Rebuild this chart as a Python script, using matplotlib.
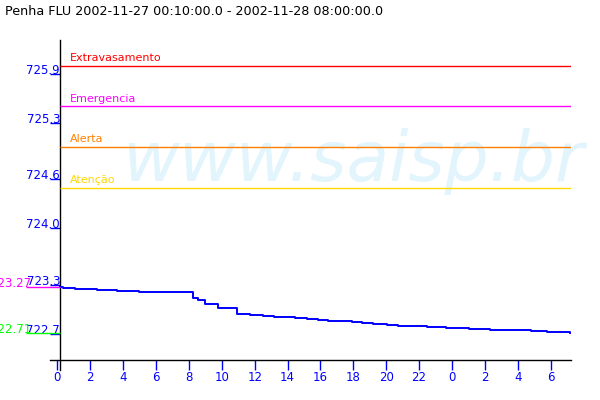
import numpy as np
import matplotlib
matplotlib.use("Agg")
import matplotlib.pyplot as plt

# level readings, hours counted from 2002-11-27 00:00
hours = [0.17, 0.35, 1.07, 2.41, 3.62, 4.96, 8.25, 8.55, 8.97, 9.76, 10.92, 11.70,
         12.50, 13.17, 14.45, 15.18, 15.85, 16.45, 17.91, 18.52, 19.19, 20.04,
         20.71, 22.47, 23.63, 25.03, 26.31, 28.80, 29.77, 31.20]
level = [723.27, 723.265, 723.255, 723.24, 723.23, 723.22, 723.14, 723.115, 723.065,
         723.02, 722.945, 722.935, 722.92, 722.91, 722.90, 722.885, 722.872, 722.86,
         722.848, 722.835, 722.823, 722.81, 722.80, 722.786, 722.774, 722.762,
         722.75, 722.737, 722.725, 722.71]

thresholds = [726.0, 725.5, 725.0, 724.5]
threshold_names = ["Extravasamento", "Emergencia", "Alerta", "Atenção"]
threshold_colors = ["#ff0000", "#ff00ff", "#ff8000", "#ffd800"]

yticks = [722.7, 723.3, 724.0, 724.6, 725.3, 725.9]
xticks = list(range(0, 31, 2))
xticklabels = [str(h % 24) for h in xticks]

title = "Penha FLU 2002-11-27 00:10:00.0 - 2002-11-28 08:00:00.0"
vmax, vmin = 723.27, 722.71

fig = plt.figure(figsize=(6, 4), dpi=100)
fig.patch.set_facecolor("white")
ax = fig.add_axes([50 / 600, 40 / 400, 521 / 600, 320 / 400])
ax.patch.set_visible(False)
ax.set_zorder(1)

fig.text(122 / 600, 1 - 180.7 / 400, "www.saisp.br", fontsize=50, style="italic",
         color="#e2f4fc", ha="left", va="baseline", zorder=-1)
fig.text(5 / 600, 1 - 15 / 400, title, fontsize=9.2, ha="left", va="baseline")

ax.set_xlim(-0.45, 31.24)
ax.set_ylim(722.377, 726.316)
t0 = hours[0]

for spine in ["top", "right", "left"]:
    ax.spines[spine].set_visible(False)
ax.spines["bottom"].set_linewidth(1)
ax.axvline(t0, ymin=-10 / 320, ymax=1, color="black", lw=1, clip_on=False)

# alert levels
for lv, name, c in zip(thresholds, threshold_names, threshold_colors):
    ax.hlines(lv, t0, ax.get_xlim()[1], color=c, lw=1)
    ax.annotate(name, (t0, lv), xytext=(7.2, 3.3), textcoords="offset points",
                color=c, fontsize=8, ha="left", va="baseline")

ax.step(hours, level, where="post", color="#0000ff", lw=1.4)

# max / min marks
ax.hlines([vmax, vmin], -1.9, t0, colors=["#ff00ff", "#00ff00"], lw=1, clip_on=False)
ax.text(-1.6, vmax, f"{vmax:.2f}", color="#ff00ff", fontsize=8.5, ha="right",
        va="baseline", clip_on=False)
ax.text(-1.6, vmin, f"{vmin:.2f}", color="#00ff00", fontsize=8.5, ha="right",
        va="baseline", clip_on=False)

ax.set_xticks(xticks)
ax.set_xticklabels(xticklabels)
ax.tick_params(axis="x", direction="out", length=7.2, width=1, colors="#0000ff",
               labelsize=8.5, pad=1)
ax.set_yticks(yticks)
ax.set_yticklabels([f"{v:.1f}" for v in yticks])
ax.tick_params(axis="y", direction="in", length=7.2, width=1, colors="#0000ff",
               labelsize=8.5, pad=-7.2)
for lab in ax.get_yticklabels():
    lab.set_verticalalignment("baseline")

fig.savefig("out.png", dpi=100)
